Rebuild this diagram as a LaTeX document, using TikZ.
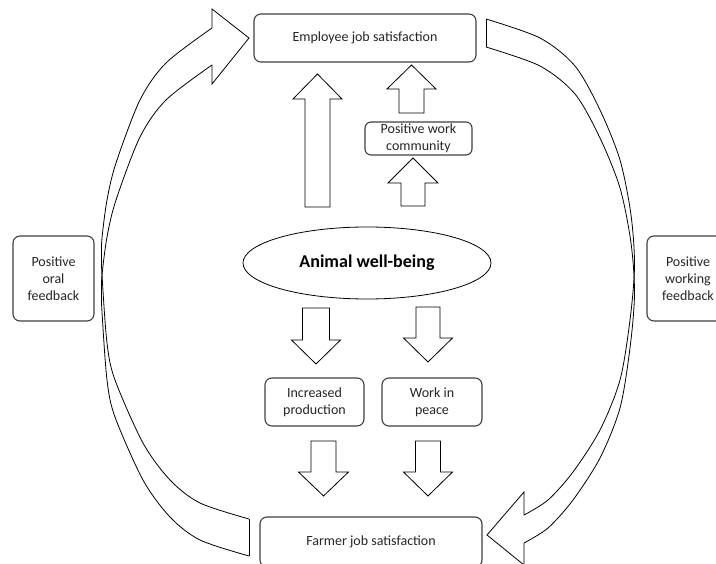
\documentclass[tikz,border=0pt]{standalone}
\usepackage{fontspec}
\setmainfont{Carlito}
\usetikzlibrary{shapes.geometric}

\tikzset{
  box/.style={draw=black!75, line width=1.1pt, rounded corners=7pt, fill=white, align=center,
    inner sep=0pt, font=\fontsize{14}{17}\selectfont, text=black!85},
  blockarr/.style={draw, line width=0.8pt, line join=miter, fill=white},
  bendarr/.style={line width=0.8pt, line join=miter},
}
% vertical block arrow: x, tail y, head base y, tip y, shaft half width, head half width
\newcommand{\blockarrow}[6]{%
  \draw[blockarr] ({#1-#5},#2) -- ({#1-#5},#3) -- ({#1-#6},#3) -- (#1,#4)
    -- ({#1+#6},#3) -- ({#1+#5},#3) -- ({#1+#5},#2) -- cycle;}

\begin{document}
\begin{tikzpicture}[x=1pt, y=-1pt]
  \clip (0,0) rectangle (716,564);

  % Boxes
  \node[box, minimum width=222pt, minimum height=48pt] (emp) at (365,38) {Employee job satisfaction};
  \node[box, minimum width=107pt, minimum height=33pt, rounded corners=6pt] (comm) at (418.5,138.5) {Positive work\\community};
  \node[draw, ellipse, line width=0.8pt, minimum width=248pt, minimum height=72pt, inner sep=0pt,
    font=\fontsize{18}{22}\selectfont\bfseries] (well) at (367,263) {Animal well-being};
  \node[box, minimum width=99pt, minimum height=48pt] (prod) at (314.5,402) {Increased\\production};
  \node[box, minimum width=100pt, minimum height=48pt] (peace) at (432,402) {Work in\\peace};
  \node[box, minimum width=222pt, minimum height=50pt] (farmer) at (371,542) {Farmer job satisfaction};
  \node[box, minimum width=81pt, minimum height=85pt] (oral) at (53.5,278.5) {Positive\\oral\\feedback};
  \node[box, minimum width=82pt, minimum height=85pt] (working) at (688,278.5) {Positive\\working\\feedback};

  % Block arrows
  \blockarrow{317.5}{207}{99}{74}{12.5}{24.5}
  \blockarrow{411.5}{113}{89}{65}{12.5}{24.5}
  \blockarrow{413}{206}{183}{158}{12}{25}
  \blockarrow{316}{308}{340}{364}{13.5}{24.5}
  \blockarrow{428}{307}{338}{362}{12}{24.5}
  \blockarrow{323.5}{441}{472}{496}{12.5}{25}
  \blockarrow{428}{441}{472}{496}{12.5}{24.5}

  % Left curved arrow (oral feedback)
  \foreach \dy in {0,37}
    \draw[bendarr] plot[smooth] coordinates {(212,28+\dy) (166,63+\dy) (140,100+\dy) (116,163+\dy)
      (107,200+\dy) (102,238+\dy) (101.5,256+\dy) (102,275+\dy) (107,343+\dy) (115,380+\dy)
      (143,443+\dy) (170,480+\dy) (200,503+\dy) (249,519+\dy)};
  \draw[bendarr] (212,28) -- (212,9) -- (249,38) -- (212,84) -- (212,65);
  \draw[bendarr] (249,519) -- (249,556);

  % Right curved arrow (working feedback)
  \foreach \dy in {0,28}
    \draw[bendarr] plot[smooth] coordinates {(486,19+\dy) (540,38+\dy) (575,66+\dy) (600,110+\dy)
      (620,160+\dy) (631,215+\dy) (634.5,266+\dy) (630,320+\dy) (620,380+\dy) (600,430+\dy)
      (573,472+\dy) (548,500+\dy) (524,515+\dy)};
  \draw[bendarr] (524,515) -- (524,492) -- (487,535) -- (524,565) -- (524,543);
  \draw[bendarr] (486,19) -- (486,47);
\end{tikzpicture}
\end{document}
